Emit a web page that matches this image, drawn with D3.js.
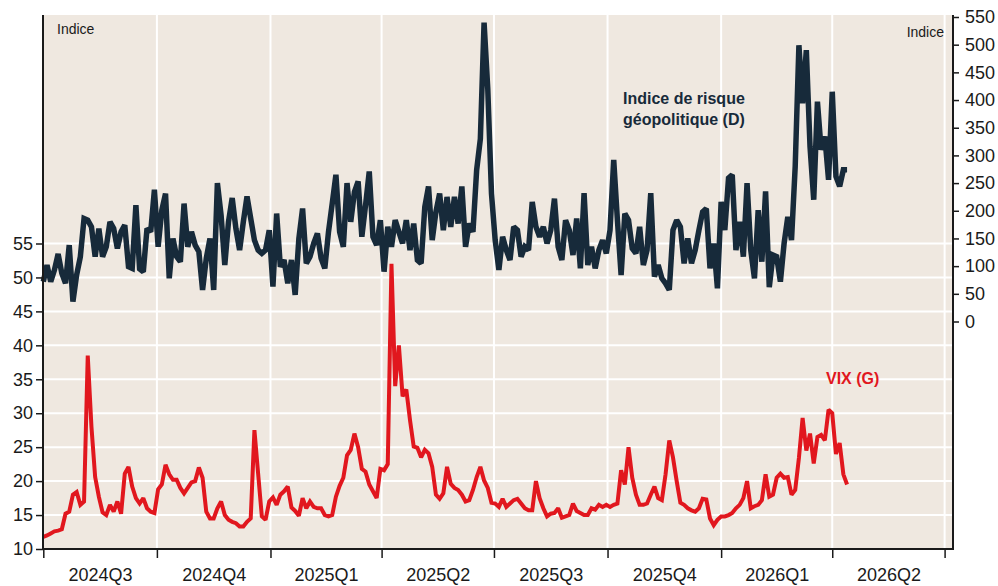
<!DOCTYPE html>
<html>
<head>
<meta charset="utf-8">
<script src="https://cdn.jsdelivr.net/npm/d3@7"></script>
<style>
  body { margin: 0; background: #fff; }
  svg text { font-family: 'Liberation Sans', Arial, sans-serif; fill: #1a1a1a; }
</style>
</head>
<body>
<svg id="container" width="998" height="586"></svg>
<script>
// one value every 3 days from 2024-07-01
const startDate = new Date(Date.UTC(2024, 6, 1))
const stepDays = 3

const gpr = [
  72, 102, 72, 93, 122, 87, 69, 138, 36, 84, 117, 186, 183, 171, 117, 168, 117, 135, 180, 168,
  132, 162, 174, 99, 96, 210, 95, 90, 168, 162, 238, 135, 201, 231, 78, 150, 117, 108, 213, 135,
  162, 138, 126, 57, 114, 150, 57, 250, 192, 102, 180, 223, 168, 129, 180, 226, 186, 147, 129, 123,
  129, 165, 63, 195, 99, 111, 69, 111, 48, 150, 204, 105, 117, 141, 159, 114, 96, 162, 213, 265,
  162, 135, 250, 180, 234, 253, 153, 210, 271, 153, 138, 183, 90, 171, 135, 183, 162, 141, 183, 129,
  177, 111, 105, 207, 244, 147, 198, 231, 165, 225, 171, 225, 177, 244, 135, 177, 162, 274, 330, 540,
  420, 231, 147, 93, 153, 129, 111, 171, 165, 117, 135, 129, 216, 171, 153, 171, 141, 165, 222, 135,
  111, 183, 165, 120, 186, 96, 232, 102, 135, 96, 129, 147, 123, 165, 292, 183, 84, 195, 183, 132,
  123, 171, 102, 129, 232, 81, 102, 78, 69, 57, 165, 183, 171, 105, 150, 105, 129, 165, 198, 204,
  96, 141, 60, 216, 165, 259, 265, 129, 180, 117, 250, 129, 78, 201, 108, 235, 62, 120, 117, 72,
  141, 189, 147, 280, 499, 394, 490, 316, 220, 397, 310, 334, 256, 415, 262, 244, 274, 274
]

const vix = [
  11.8, 12.0, 12.3, 12.6, 12.7, 12.9, 15.2, 15.5, 18.0, 18.4, 16.5, 17.0, 38.5, 28.0, 20.6, 17.7, 15.4, 15.0, 16.5, 15.5,
  17.0, 15.2, 21.1, 22.1, 19.2, 17.5, 16.7, 17.5, 16.0, 15.5, 15.3, 18.8, 19.5, 22.4, 21.0, 20.2, 20.2, 19.0, 18.2, 19.0,
  19.8, 20.0, 22.0, 20.5, 15.5, 14.5, 14.5, 16.0, 17.0, 15.0, 14.3, 14.0, 13.8, 13.3, 13.3, 14.0, 14.5, 27.5, 21.1, 14.8,
  14.3, 17.0, 17.6, 16.5, 18.0, 18.5, 19.2, 16.1, 15.6, 14.9, 17.5, 16.0, 17.0, 16.2, 16.0, 16.0, 15.0, 14.8, 15.0, 17.7,
  19.3, 20.5, 23.8, 24.6, 27.0, 25.0, 21.8, 21.4, 19.5, 18.5, 17.5, 21.8, 21.6, 22.5, 52.0, 34.0, 40.0, 32.5, 33.5, 29.0,
  25.1, 24.9, 23.5, 24.6, 24.1, 22.1, 18.0, 17.4, 18.2, 22.1, 19.6, 19.0, 18.7, 18.0, 17.0, 17.2, 18.7, 20.6, 22.1, 20.1,
  19.0, 16.8, 16.7, 16.2, 17.4, 16.2, 16.7, 17.2, 17.4, 16.7, 16.0, 15.7, 15.7, 20.0, 17.5, 16.0, 14.8, 15.2, 15.3, 16.0,
  14.6, 14.8, 15.0, 16.7, 15.6, 15.3, 15.0, 15.0, 16.0, 15.8, 16.5, 16.2, 16.5, 16.2, 16.5, 16.7, 21.6, 19.5, 25.0, 20.5,
  18.0, 16.5, 16.5, 16.7, 18.0, 19.2, 17.5, 17.2, 21.0, 26.0, 23.5, 20.0, 16.8, 16.5, 16.0, 15.7, 15.5, 16.0, 17.4, 17.3,
  14.5, 13.5, 14.3, 14.8, 14.8, 15.0, 15.3, 16.0, 16.5, 17.5, 20.0, 16.0, 16.3, 16.5, 17.2, 21.0, 17.7, 18.0, 20.5, 21.1,
  20.5, 20.6, 18.0, 18.7, 23.4, 29.3, 24.5, 27.0, 22.6, 26.5, 26.8, 26.0, 30.5, 30.0, 24.0, 25.6, 21.0, 19.5
]

const quarterStarts = ['2024-07-01', '2024-10-01', '2025-01-01', '2025-04-01', '2025-07-01', '2025-10-01', '2026-01-01', '2026-04-01', '2026-07-01']
const quarterLabels = ['2024Q3', '2024Q4', '2025Q1', '2025Q2', '2025Q3', '2025Q4', '2026Q1', '2026Q2']
const leftTicks = [10, 15, 20, 25, 30, 35, 40, 45, 50, 55]
const rightTicks = [0, 50, 100, 150, 200, 250, 300, 350, 400, 450, 500, 550]

const svg = d3.select('#container')
const plotLeft = 43
const plotRight = 953
const plotTop = 15
const plotBottom = 549

const qDates = quarterStarts.map((s) => new Date(s + 'T00:00:00Z'))
const dateOf = (i) => d3.utcDay.offset(startDate, i * stepDays)

const xScale = d3.scaleUtc().domain([qDates[0], qDates[qDates.length - 1]]).range([43.3, 944.6])
const yLeft = d3.scaleLinear().domain([10, 55]).range([549, 243.5])
const yRight = d3.scaleLinear().domain([0, 550]).range([321.5, 17])

// plot background
svg.append('rect')
  .attr('x', plotLeft).attr('y', plotTop)
  .attr('width', plotRight - plotLeft).attr('height', plotBottom - plotTop)
  .style('fill', '#efe8e0')

// grid
svg.append('g')
  .selectAll('line')
  .data(leftTicks.slice(1))
  .enter()
  .append('line')
  .attr('x1', plotLeft).attr('x2', plotRight)
  .attr('y1', (d) => yLeft(d)).attr('y2', (d) => yLeft(d))
  .style('stroke', '#fff').style('stroke-width', 2)

svg.append('g')
  .selectAll('line')
  .data(qDates.slice(1))
  .enter()
  .append('line')
  .attr('x1', (d) => xScale(d)).attr('x2', (d) => xScale(d))
  .attr('y1', plotTop).attr('y2', plotBottom)
  .style('stroke', '#fff').style('stroke-width', 2)

// series
const gprLine = d3.line().x((d, i) => xScale(dateOf(i))).y((d) => yRight(d))
const vixLine = d3.line().x((d, i) => xScale(dateOf(i))).y((d) => yLeft(d))

svg.append('path')
  .datum(vix)
  .attr('d', vixLine)
  .style('fill', 'none')
  .style('stroke', '#e1171e')
  .style('stroke-width', 4)
  .style('stroke-linejoin', 'miter')
  .style('stroke-miterlimit', 2)

svg.append('path')
  .datum(gpr)
  .attr('d', gprLine)
  .style('fill', 'none')
  .style('stroke', '#172a3a')
  .style('stroke-width', 5.5)
  .style('stroke-linejoin', 'miter')
  .style('stroke-miterlimit', 2)

// axes
const leftAxis = d3.axisLeft(yLeft).tickValues(leftTicks).tickSize(7).tickPadding(3).tickSizeOuter(0)
const rightAxis = d3.axisRight(yRight).tickValues(rightTicks).tickSize(6).tickPadding(6).tickSizeOuter(0)
const xTicks = d3.axisBottom(xScale).tickValues(qDates).tickSize(9).tickFormat('').tickSizeOuter(0)

const midDates = quarterLabels.map((q, i) => new Date((+qDates[i] + +qDates[i + 1]) / 2))
const xLabels = d3.axisBottom(xScale).tickValues(midDates).tickSize(0).tickPadding(19)
  .tickFormat((d, i) => quarterLabels[i])

const styleAxis = (g) => {
  g.select('.domain').remove()
  g.selectAll('line').style('stroke', '#1a1a1a').style('stroke-width', 1.5)
  g.selectAll('text').style('font-size', '18px').style('fill', '#1a1a1a')
}

svg.append('g').attr('transform', `translate(${plotLeft},0)`).call(leftAxis).call(styleAxis)
svg.append('g').attr('transform', `translate(${plotRight},0)`).call(rightAxis).call(styleAxis)
svg.append('g').attr('transform', `translate(0,${plotBottom})`).call(xTicks).call(styleAxis)
svg.append('g').attr('transform', `translate(0,${plotBottom})`).call(xLabels).call(styleAxis)

// frame lines
svg.append('line').attr('x1', plotLeft).attr('x2', plotLeft).attr('y1', plotTop).attr('y2', plotBottom + 1)
  .style('stroke', '#1a1a1a').style('stroke-width', 2)
svg.append('line').attr('x1', plotRight).attr('x2', plotRight).attr('y1', plotTop).attr('y2', plotBottom + 1)
  .style('stroke', '#1a1a1a').style('stroke-width', 2)
svg.append('line').attr('x1', plotLeft).attr('x2', plotRight).attr('y1', plotBottom).attr('y2', plotBottom)
  .style('stroke', '#1a1a1a').style('stroke-width', 2)

// labels
svg.append('text').attr('x', 57).attr('y', 34).text('Indice').style('font-size', '14px')
svg.append('text').attr('x', 944).attr('y', 37).attr('text-anchor', 'end').text('Indice').style('font-size', '14px')

svg.append('text').attr('x', 623).attr('y', 104)
  .style('font-size', '16px').style('font-weight', 'bold').style('fill', '#172a3a')
  .text('Indice de risque')
svg.append('text').attr('x', 623).attr('y', 125)
  .style('font-size', '16px').style('font-weight', 'bold').style('fill', '#172a3a')
  .text('géopolitique (D)')

svg.append('text').attr('x', 826).attr('y', 384)
  .style('font-size', '16px').style('font-weight', 'bold').style('fill', '#e1171e')
  .text('VIX (G)')
</script>
</body>
</html>
